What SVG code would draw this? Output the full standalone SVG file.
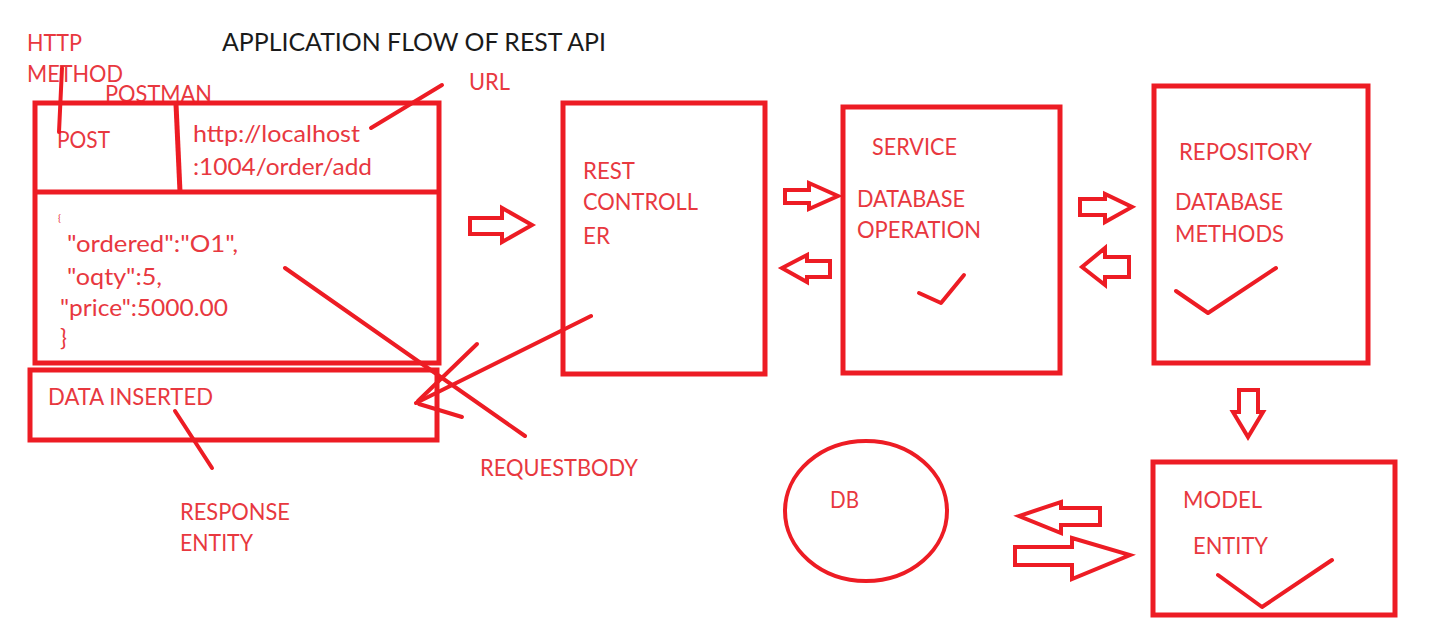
<svg xmlns="http://www.w3.org/2000/svg" width="1443" height="633" viewBox="0 0 1443 633">
<style>
.box{fill:none;stroke:#ED1C24;stroke-width:5}
.ln{fill:none;stroke:#ED1C24;stroke-width:4;stroke-linecap:round;stroke-linejoin:round}
.ba{fill:#fff;stroke:#ED1C24;stroke-width:4;stroke-linejoin:miter}
.t{font-family:Lato,"Liberation Sans",sans-serif;font-size:23px;fill:#E8383F}
.title{font-family:Lato,"Liberation Sans",sans-serif;font-size:25px;fill:#1a1a1a}
</style>
<rect width="1443" height="633" fill="#fff"/>
<text class="title" x="222" y="51" textLength="384" lengthAdjust="spacingAndGlyphs">APPLICATION FLOW OF REST API</text>

<g id="labels">
<text class="t" x="27" y="51" textLength="55" lengthAdjust="spacingAndGlyphs">HTTP</text>
<text class="t" x="27" y="82" textLength="96" lengthAdjust="spacingAndGlyphs">METHOD</text>
<text class="t" x="105" y="102" textLength="107" lengthAdjust="spacingAndGlyphs">POSTMAN</text>
<text class="t" x="469" y="90" textLength="41" lengthAdjust="spacingAndGlyphs">URL</text>
<text class="t" x="180" y="520" textLength="110" lengthAdjust="spacingAndGlyphs">RESPONSE</text>
<text class="t" x="180" y="551" textLength="73" lengthAdjust="spacingAndGlyphs">ENTITY</text>
<text class="t" x="480" y="476" textLength="158" lengthAdjust="spacingAndGlyphs">REQUESTBODY</text>
</g>

<g id="postman">
<rect class="box" x="35" y="103" width="404" height="260"/>
<line class="box" x1="35" y1="192" x2="439" y2="192"/>
<line class="box" x1="176" y1="104" x2="180" y2="192"/>
<text class="t" x="57" y="148" textLength="53" lengthAdjust="spacingAndGlyphs">POST</text>
<text class="t" x="193" y="142" textLength="167" lengthAdjust="spacingAndGlyphs">http://localhost</text>
<text class="t" x="193" y="175" textLength="179" lengthAdjust="spacingAndGlyphs">:1004/order/add</text>
<text class="t" x="58" y="221" style="font-size:10px">{</text>
<text class="t" x="67" y="252" textLength="171" lengthAdjust="spacingAndGlyphs">"ordered":"O1",</text>
<text class="t" x="67" y="285" textLength="95" lengthAdjust="spacingAndGlyphs">"oqty":5,</text>
<text class="t" x="60" y="316" textLength="168" lengthAdjust="spacingAndGlyphs">"price":5000.00</text>
<text class="t" x="60" y="346">}</text>
</g>

<g id="response">
<rect class="box" x="30" y="370" width="407" height="70"/>
<text class="t" x="48" y="405" textLength="165" lengthAdjust="spacingAndGlyphs">DATA INSERTED</text>
</g>

<g id="restcontroller">
<rect class="box" x="563" y="103" width="202" height="271"/>
<text class="t" x="583" y="179" textLength="52" lengthAdjust="spacingAndGlyphs">REST</text>
<text class="t" x="583" y="210" textLength="115" lengthAdjust="spacingAndGlyphs">CONTROLL</text>
<text class="t" x="583" y="244" textLength="27" lengthAdjust="spacingAndGlyphs">ER</text>
</g>

<g id="service">
<rect class="box" x="843" y="107" width="217" height="266"/>
<text class="t" x="872" y="155" textLength="85" lengthAdjust="spacingAndGlyphs">SERVICE</text>
<text class="t" x="857" y="207" textLength="108" lengthAdjust="spacingAndGlyphs">DATABASE</text>
<text class="t" x="857" y="238" textLength="124" lengthAdjust="spacingAndGlyphs">OPERATION</text>
<polyline class="ln" points="919,293 941,303 964,275"/>
</g>

<g id="repository">
<rect class="box" x="1154" y="86" width="214" height="277"/>
<text class="t" x="1179" y="160" textLength="133" lengthAdjust="spacingAndGlyphs">REPOSITORY</text>
<text class="t" x="1175" y="210" textLength="108" lengthAdjust="spacingAndGlyphs">DATABASE</text>
<text class="t" x="1175" y="242" textLength="109" lengthAdjust="spacingAndGlyphs">METHODS</text>
<polyline class="ln" points="1176,291 1208,313 1276,268"/>
</g>

<g id="db">
<ellipse class="ln" cx="866" cy="511" rx="81" ry="70"/>
<text class="t" x="830" y="508" textLength="29" lengthAdjust="spacingAndGlyphs">DB</text>
</g>

<g id="model">
<rect class="box" x="1153" y="462" width="242" height="153"/>
<text class="t" x="1183" y="508" textLength="79" lengthAdjust="spacingAndGlyphs">MODEL</text>
<text class="t" x="1193" y="554" textLength="75" lengthAdjust="spacingAndGlyphs">ENTITY</text>
<polyline class="ln" points="1218,575 1262,607 1332,560"/>
</g>

<g id="connectors">
<line class="ln" x1="62" y1="68" x2="59" y2="132"/>
<line class="ln" x1="442" y1="85" x2="371" y2="128"/>
<line class="ln" x1="175" y1="411" x2="212" y2="468"/>
<line class="ln" x1="285" y1="268" x2="525" y2="436"/>
<line class="ln" x1="591" y1="316" x2="416" y2="403"/>
<line class="ln" x1="477" y1="344" x2="418" y2="401"/>
<line class="ln" x1="419" y1="404" x2="462" y2="417"/>
<polygon class="ba" points="470,218 502,218 502,208 532,225 502,242 502,234 470,234"/>
<polygon class="ba" points="785,190 809,190 809,183 838,196 809,209 809,203 785,203"/>
<polygon class="ba" points="830,261 807,261 807,255 782,268 807,282 807,277 830,277"/>
<polygon class="ba" points="1080,199 1105,199 1105,194 1132,207 1105,222 1105,215 1080,215"/>
<polygon class="ba" points="1129,257 1105,257 1105,248 1082,267 1105,285 1105,277 1129,277"/>
<polygon class="ba" points="1239,390 1258,390 1258,412 1263,412 1248,437 1233,412 1239,412"/>
<polygon class="ba" points="1100,508 1061,508 1061,502 1019,516 1061,533 1061,525 1100,525"/>
<polygon class="ba" points="1015,547 1072,547 1072,538 1130,555 1072,579 1072,565 1015,565"/>
</g>
</svg>
